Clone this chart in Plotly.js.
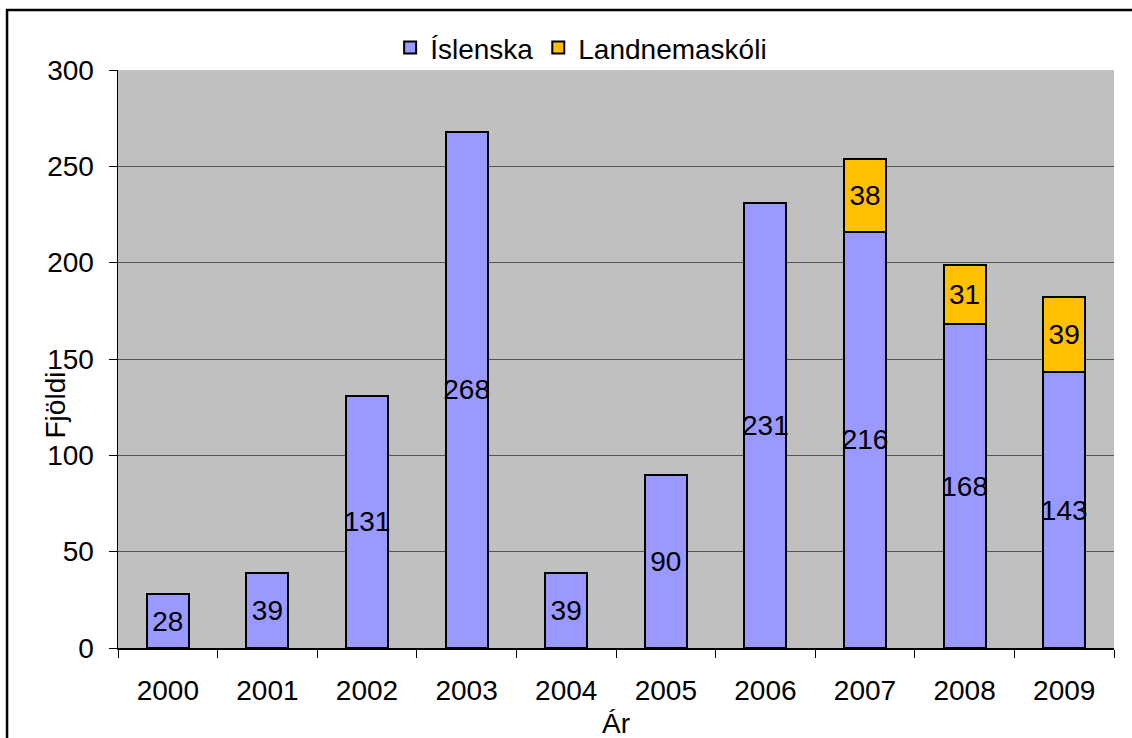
<!DOCTYPE html>
<html>
<head>
<meta charset="utf-8">
<script src="https://cdn.plot.ly/plotly-3.0.1.min.js"></script>
<style>
  html, body { margin: 0; padding: 0; background: white; }
  #chart { width: 1132px; height: 738px; }
</style>
</head>
<body>
<div id="chart"></div>
<script>
// Years on the x axis
var years = ['2000', '2001', '2002', '2003', '2004', '2005', '2006', '2007', '2008', '2009'];

// Series values
var islenska = [28, 39, 131, 268, 39, 90, 231, 216, 168, 143];
var landnemaskoli = [null, null, null, null, null, null, null, 38, 31, 39];

var yTicks = [0, 50, 100, 150, 200, 250, 300];

var font = 'Liberation Sans, Arial, sans-serif';
var fs = 28;

function labels(arr) {
    return arr.map(function(v) { return v === null ? '' : String(v); });
}

var trace1 = {
    x: years,
    y: islenska,
    type: 'bar',
    name: 'Íslenska',
    width: 0.42,
    text: labels(islenska),
    textposition: 'inside',
    insidetextanchor: 'middle',
    textangle: 0,
    constraintext: 'none',
    textfont: { family: font, size: fs, color: 'black' },
    marker: { color: '#9999FF', line: { color: 'black', width: 2 } },
    hoverinfo: 'x+y'
};

var trace2 = {
    x: years,
    y: landnemaskoli,
    type: 'bar',
    name: 'Landnemaskóli',
    width: 0.42,
    text: labels(landnemaskoli),
    textposition: 'inside',
    insidetextanchor: 'middle',
    textangle: 0,
    constraintext: 'none',
    textfont: { family: font, size: fs, color: 'black' },
    marker: { color: '#FFC000', line: { color: 'black', width: 2 } },
    hoverinfo: 'x+y'
};

var layout = {
    width: 1132,
    height: 738,
    margin: { l: 118, r: 18, t: 70, b: 90 },
    paper_bgcolor: 'white',
    plot_bgcolor: '#C0C0C0',
    barmode: 'stack',
    font: { family: font, size: fs, color: 'black' },
    showlegend: true,
    legend: {
        orientation: 'h',
        traceorder: 'normal',
        x: 0.465,
        xanchor: 'center',
        y: 0.995,
        yanchor: 'bottom',
        bgcolor: 'rgba(0,0,0,0)',
        font: { family: font, size: fs, color: 'black' },
        itemwidth: 30,
        tracegroupgap: 0
    },
    xaxis: {
        type: 'category',
        showline: true,
        linecolor: 'black',
        linewidth: 1.5,
        ticks: 'outside',
        tickson: 'boundaries',
        ticklen: 8,
        tickcolor: 'black',
        ticklabelstandoff: 17,
        showgrid: false,
        tickfont: { family: font, size: fs, color: 'black' },
        fixedrange: true
    },
    yaxis: {
        range: [0, 300],
        tickvals: yTicks,
        ticks: 'outside',
        ticklen: 8,
        tickcolor: 'black',
        ticklabelstandoff: 9,
        showline: true,
        linecolor: 'black',
        linewidth: 1.5,
        showgrid: true,
        gridcolor: '#555555',
        gridwidth: 1,
        zeroline: false,
        tickfont: { family: font, size: fs, color: 'black' },
        fixedrange: true
    },
    annotations: [
        {
            text: 'Fjöldi',
            xref: 'paper', yref: 'y',
            x: -0.063, y: 126,
            xanchor: 'center', yanchor: 'middle',
            textangle: -90,
            showarrow: false,
            font: { family: font, size: fs, color: 'black' }
        },
        {
            text: 'Ár',
            xref: 'paper', yref: 'paper',
            x: 0.5, y: -0.131,
            xanchor: 'center', yanchor: 'middle',
            showarrow: false,
            font: { family: font, size: fs, color: 'black' }
        }
    ],
    shapes: [
        {
            type: 'rect',
            xref: 'paper', yref: 'paper',
            x0: -0.1114, x1: 1.1,
            y0: -0.3, y1: 1.1038,
            line: { color: 'black', width: 2.5 },
            fillcolor: 'rgba(0,0,0,0)',
            layer: 'above'
        }
    ]
};

Plotly.newPlot('chart', [trace1, trace2], layout, { displayModeBar: false, staticPlot: true });
</script>
</body>
</html>
